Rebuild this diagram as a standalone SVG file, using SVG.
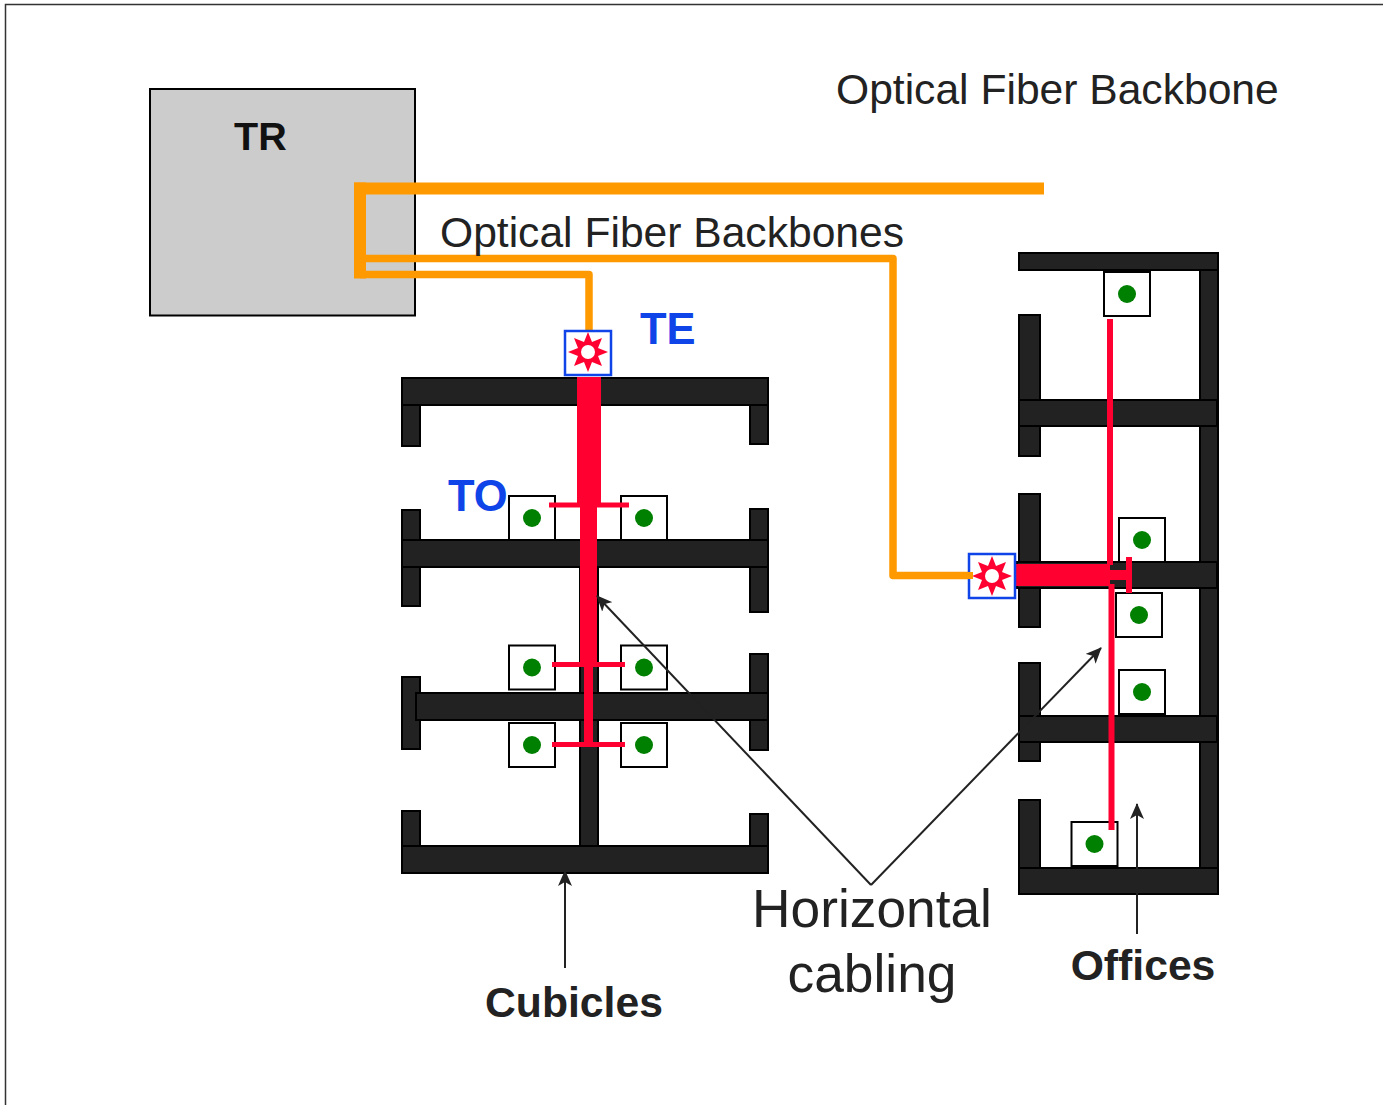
<svg xmlns="http://www.w3.org/2000/svg" width="1383" height="1105" viewBox="0 0 1383 1105">
<style>
.w{fill:#222;stroke:#000;stroke-width:2}
.o{fill:#fff;stroke:#000;stroke-width:2}
.d{fill:#008000}
.r{fill:#ff0030}
.f{fill:#f90}
.b{fill:#fff;stroke:#0f45e8;stroke-width:2.5}
.l{fill:none;stroke:#222;stroke-width:2}
text{font-family:"Liberation Sans",Arial,sans-serif;fill:#222}
.big{font-size:53.300px}
.lab{font-size:42.600px}
.bold{font-weight:bold;font-size:42.700px}
.blue{font-weight:bold;font-size:43.500px;fill:#0f45e8}
</style>
<defs>
<marker id="a" markerWidth="16" markerHeight="14" refX="15" refY="7" orient="auto" markerUnits="userSpaceOnUse"><path d="M0 0L16 7L0 14L4 7Z" fill="#222"/></marker>
<g id="star"><polygon class="r" points="0,-20 4,-10 14,-14 10,-4 20,0 10,4 14,14 4,10 0,20 -4,10 -14,14 -10,4 -20,0 -10,-4 -14,-14 -4,-10"/><circle r="7" fill="#fff"/></g>
<g id="to"><rect class="o" x="-23" y="-22" width="46" height="44"/><circle class="d" r="9"/></g>
</defs>
<path d="M5.500 1105V4.500H1383" fill="none" stroke="#333" stroke-width="1.500"/>
<g id="tr"><rect x="150" y="89" width="265" height="226.500" fill="#ccc" stroke="#000" stroke-width="2"/><text x="234" y="150" style="font-size:39.500px;font-weight:bold;fill:#111">TR</text></g>
<g id="cubicles">
<rect class="w" x="402" y="405" width="18" height="41"/><rect class="w" x="750" y="405" width="18" height="39"/>
<rect class="w" x="402" y="510" width="18" height="40"/><rect class="w" x="750" y="509" width="18" height="40"/>
<rect class="w" x="402" y="566" width="18" height="40"/><rect class="w" x="750" y="566" width="18" height="46"/>
<rect class="w" x="402" y="677" width="18" height="72"/><rect class="w" x="750" y="654" width="18" height="96"/>
<rect class="w" x="402" y="811" width="18" height="40"/><rect class="w" x="750" y="814" width="18" height="36"/>
<rect class="w" x="580" y="560" width="18" height="290"/>
<rect class="w" x="402" y="378" width="366" height="27"/>
<rect class="w" x="402" y="540" width="366" height="27"/>
<rect class="w" x="416" y="693" width="352" height="27"/>
<rect class="w" x="402" y="846" width="366" height="27"/>
</g>
<g id="offices">
<rect class="w" x="1019" y="315" width="21" height="141"/><rect class="w" x="1019" y="494" width="21" height="133"/><rect class="w" x="1019" y="663" width="21" height="98"/><rect class="w" x="1019" y="800" width="21" height="70"/>
<rect class="w" x="1200" y="253" width="18" height="640"/>
<rect class="w" x="1019" y="253" width="199" height="17"/>
<rect class="w" x="1019" y="400" width="198" height="26"/>
<rect class="w" x="1017" y="562" width="200" height="26"/>
<rect class="w" x="1019" y="716" width="198" height="26"/>
<rect class="w" x="1019" y="868" width="199" height="26"/>
</g>
<g id="outlets">
<use href="#to" x="532" y="518"/><use href="#to" x="644" y="518"/>
<use href="#to" x="532" y="667.500"/><use href="#to" x="644" y="667.500"/>
<use href="#to" x="532" y="745"/><use href="#to" x="644" y="745"/>
<use href="#to" x="1127" y="294"/><use href="#to" x="1142" y="540"/><use href="#to" x="1139" y="615"/><use href="#to" x="1142" y="692"/><use href="#to" x="1094.500" y="844"/>
</g>
<g id="horizontal-cabling">
<rect class="r" x="577" y="377" width="24" height="128"/>
<rect class="r" x="580" y="505" width="17" height="160"/>
<rect class="r" x="584" y="665" width="9" height="80"/>
<rect class="r" x="549" y="502.500" width="80" height="5"/>
<rect class="r" x="552" y="662" width="73" height="5"/>
<rect class="r" x="552" y="742" width="73" height="5"/>
<rect class="r" x="1016" y="564" width="94" height="22"/>
<rect class="r" x="1107" y="319" width="6" height="246"/>
<rect class="r" x="1108.500" y="584" width="6" height="246"/>
<rect class="r" x="1110" y="570" width="21" height="10"/>
<rect class="r" x="1126" y="557" width="6" height="36"/>
</g>
<g id="backbone">
<rect class="f" x="354" y="182.500" width="690" height="12"/>
<rect class="f" x="354" y="182.500" width="12" height="96"/>
<path d="M360 258.500H893V575.500H973" fill="none" stroke="#f90" stroke-width="7.500" stroke-linejoin="round"/>
<path d="M360 274.500H589V332" fill="none" stroke="#f90" stroke-width="7.500" stroke-linejoin="round"/>
</g>
<g id="te-1"><rect class="b" x="565" y="331" width="46" height="44"/><use href="#star" x="588" y="352"/></g>
<g id="te-2"><rect class="b" x="969" y="554" width="46" height="44"/><use href="#star" x="992" y="576"/></g>
<rect class="f" x="965" y="572" width="8" height="7"/>
<g id="connectors">
<path class="l" d="M871 885L597 596" marker-end="url(#a)"/>
<path class="l" d="M871 885L1101 648" marker-end="url(#a)"/>
<path class="l" d="M565 968V871" marker-end="url(#a)"/>
<path class="l" d="M1137 934V804" marker-end="url(#a)"/>
</g>
<g id="labels">
<text class="lab" x="836" y="104">Optical Fiber Backbone</text>
<text class="lab" x="440" y="247">Optical Fiber Backbones</text>
<text class="blue" x="640" y="344">TE</text>
<text class="blue" x="448" y="511">TO</text>
<text class="big" x="872" y="927" text-anchor="middle">Horizontal</text>
<text class="big" x="872" y="992" text-anchor="middle">cabling</text>
<text class="bold" x="574" y="1017" text-anchor="middle">Cubicles</text>
<text class="bold" x="1143" y="980" text-anchor="middle">Offices</text>
</g>
</svg>
